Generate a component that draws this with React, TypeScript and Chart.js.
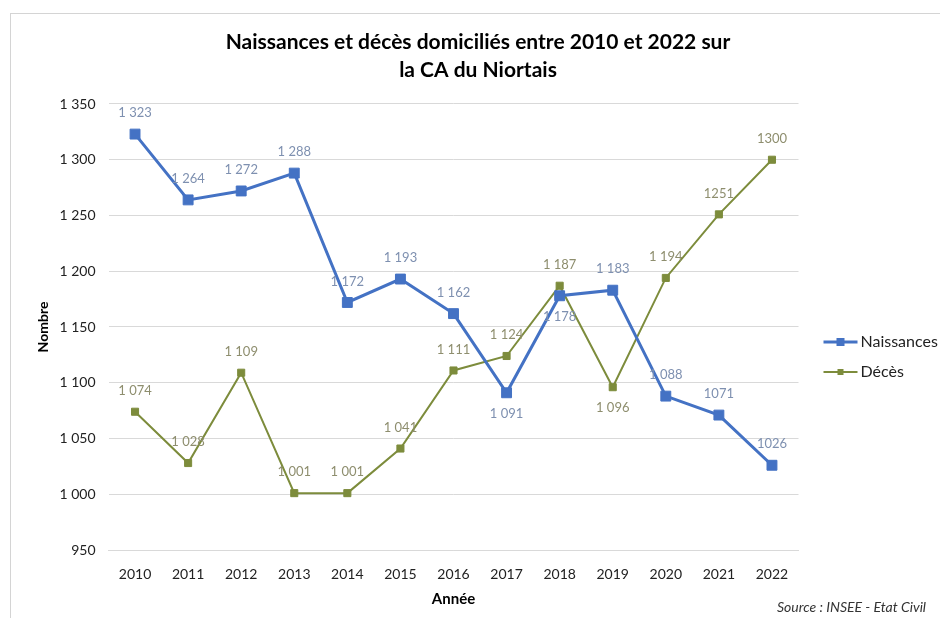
import React, { useEffect, useRef } from "react";
import { Chart, registerables } from "chart.js";

Chart.register(...registerables);

const years = ["2010", "2011", "2012", "2013", "2014", "2015", "2016", "2017", "2018", "2019", "2020", "2021", "2022"];
const naissances = [1323, 1264, 1272, 1288, 1172, 1193, 1162, 1091, 1178, 1183, 1088, 1071, 1026];
const deces = [1074, 1028, 1109, 1001, 1001, 1041, 1111, 1124, 1187, 1096, 1194, 1251, 1300];
// label placement per point: true = below the point
const naissancesBelow = [false, false, false, false, false, false, false, true, true, false, false, false, false];
const decesBelow = [false, false, false, false, false, false, false, false, false, true, false, false, false];
// labels written without thousands separator in the source picture
const naissancesCompact = [false, false, false, false, false, false, false, false, false, false, false, true, true];
const decesCompact = [false, false, false, false, false, false, false, false, false, false, false, true, true];

const titleLines = ["Naissances et décès domiciliés entre 2010 et 2022 sur", "la CA du Niortais"];
const sourceText = "Source : INSEE - Etat Civil";

const BLUE = "#4472C4";
const OLIVE = "#7d8c3c";
const BLUE_LABEL = "#7e90b0";
const OLIVE_LABEL = "#8e8e6e";
const FONT = "Lato, 'Open Sans', sans-serif";

const fmt = (v: number, compact: boolean) => {
  const s = String(v);
  if (compact || s.length < 4) return s;
  return s.slice(0, s.length - 3) + " " + s.slice(s.length - 3);
};

const labelsPlugin = {
  id: "pointLabels",
  afterDatasetsDraw(chart: any) {
    const ctx = chart.ctx;
    const below = [naissancesBelow, decesBelow];
    const compact = [naissancesCompact, decesCompact];
    const colors = [BLUE_LABEL, OLIVE_LABEL];
    ctx.save();
    ctx.font = `13px ${FONT}`;
    ctx.textAlign = "center";
    ctx.textBaseline = "middle";
    chart.data.datasets.forEach((ds: any, di: number) => {
      const meta = chart.getDatasetMeta(di);
      ctx.fillStyle = colors[di];
      meta.data.forEach((pt: any, i: number) => {
        const v = ds.data[i];
        const dy = below[di][i] ? 21 : -21;
        ctx.fillText(fmt(v, compact[di][i]), pt.x, pt.y + dy);
      });
    });
    ctx.restore();
  },
};

const legendPlugin = {
  id: "customLegend",
  afterDraw(chart: any) {
    const ctx = chart.ctx;
    const x0 = chart.chartArea.right + 25;
    const items = [
      { label: "Naissances", color: BLUE, lw: 3, size: 8, y: 342 },
      { label: "Décès", color: OLIVE, lw: 2, size: 6, y: 372 },
    ];
    ctx.save();
    items.forEach((it) => {
      ctx.strokeStyle = it.color;
      ctx.lineWidth = it.lw;
      ctx.beginPath();
      ctx.moveTo(x0, it.y);
      ctx.lineTo(x0 + 34, it.y);
      ctx.stroke();
      ctx.fillStyle = it.color;
      ctx.fillRect(x0 + 17 - it.size / 2, it.y - it.size / 2, it.size, it.size);
      ctx.fillStyle = "#222";
      ctx.font = `16px ${FONT}`;
      ctx.textAlign = "left";
      ctx.textBaseline = "middle";
      ctx.fillText(it.label, x0 + 37, it.y);
    });
    ctx.font = `italic 14px ${FONT}`;
    ctx.fillStyle = "#333";
    ctx.textAlign = "right";
    ctx.textBaseline = "middle";
    ctx.fillText(sourceText, 926, 607);
    ctx.restore();
  },
};

export default function App() {
  const ref = useRef<HTMLCanvasElement>(null);
  useEffect(() => {
    if (!ref.current) return;
    const chart = new Chart(ref.current, {
      type: "line",
      data: {
        labels: years,
        datasets: [
          {
            label: "Naissances",
            data: naissances,
            borderColor: BLUE,
            backgroundColor: BLUE,
            borderWidth: 3,
            pointStyle: "rect",
            pointRadius: 7,
            pointBorderWidth: 1,
            pointBackgroundColor: BLUE,
            pointBorderColor: BLUE,
            tension: 0,
          },
          {
            label: "Décès",
            data: deces,
            borderColor: OLIVE,
            backgroundColor: OLIVE,
            borderWidth: 2,
            pointStyle: "rect",
            pointRadius: 5,
            pointBorderWidth: 1,
            pointBackgroundColor: OLIVE,
            pointBorderColor: OLIVE,
            tension: 0,
          },
        ],
      },
      options: {
        animation: false,
        responsive: false,
        maintainAspectRatio: false,
        layout: { padding: { left: 16, right: 0, top: 0, bottom: 0 } },
        plugins: {
          legend: { display: false },
          tooltip: { enabled: false },
          title: {
            display: true,
            text: titleLines,
            color: "#000",
            font: { family: FONT, size: 21, weight: "bold", lineHeight: 1.333 },
            padding: { top: 28, bottom: 20 },
          },
        },
        scales: {
          x: {
            offset: true,
            grid: { display: false, drawTicks: false },
            border: { display: true, color: "#d9d9d9" },
            ticks: { color: "#222", font: { family: FONT, size: 14 }, padding: 16, maxRotation: 0 },
            title: {
              display: true,
              text: "Année",
              color: "#000",
              font: { family: FONT, size: 15, weight: "bold" },
              padding: { top: 0, bottom: 10 },
            },
            afterFit: (s: any) => {
              s.height = 68;
            },
          },
          y: {
            min: 950,
            max: 1350,
            ticks: {
              stepSize: 50,
              color: "#222",
              font: { family: FONT, size: 14 },
              padding: 13,
              callback: (v: any) => fmt(Number(v), false),
            },
            grid: { color: "#d9d9d9", lineWidth: 1, drawTicks: false },
            border: { display: false },
            title: {
              display: true,
              text: "Nombre",
              color: "#000",
              font: { family: FONT, size: 14, weight: "bold" },
              padding: { top: 19, bottom: 0 },
            },
            afterFit: (s: any) => {
              s.width = 92.5;
            },
          },
          yRight: {
            type: "linear",
            position: "right",
            display: true,
            grid: { display: false, drawTicks: false },
            border: { display: false },
            ticks: { display: false },
            afterFit: (s: any) => {
              s.width = 141.5;
            },
          },
        },
      } as any,
      plugins: [labelsPlugin, legendPlugin],
    });
    return () => chart.destroy();
  }, []);

  return (
    <div style={{ position: "fixed", left: 0, top: 0, width: 940, height: 618, overflow: "hidden", background: "#fff" }}>
      <div
        style={{
          position: "absolute",
          left: 10,
          top: 13,
          width: 960,
          height: 640,
          border: "1px solid #d4d4d4",
          pointerEvents: "none",
        }}
      />
      <canvas ref={ref} width={940} height={618} style={{ position: "absolute", left: 0, top: 0, width: 940, height: 618 }} />
    </div>
  );
}
